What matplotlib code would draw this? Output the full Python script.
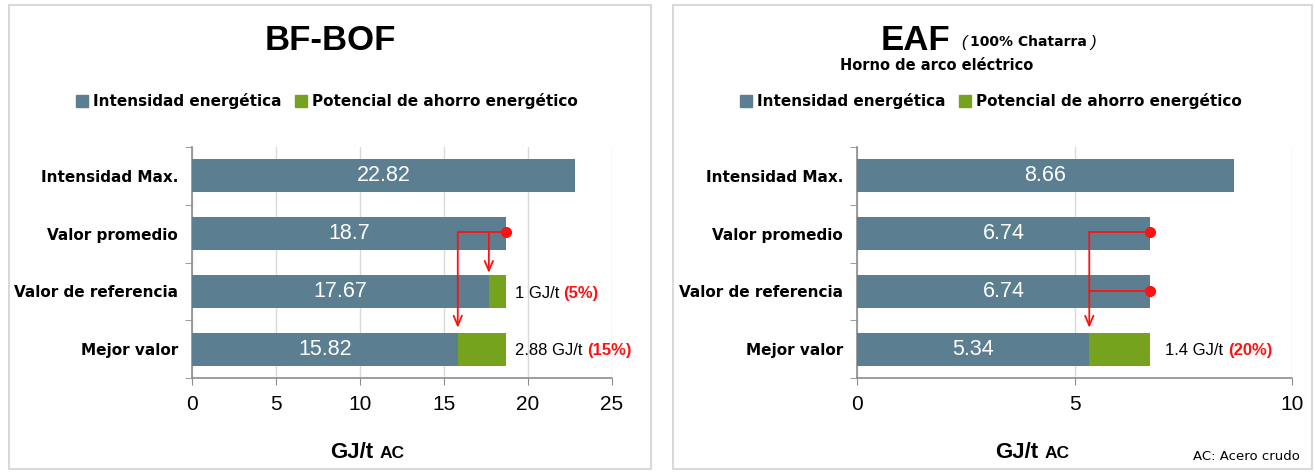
import matplotlib.pyplot as plt
from matplotlib.patches import Rectangle

# data
categories = ["Intensidad Max.", "Valor promedio", "Valor de referencia", "Mejor valor"]

bf_intensity = [22.82, 18.7, 17.67, 15.82]
bf_saving = [0, 0, 1.03, 2.88]
bf_saving_text = ["", "", "1 GJ/t", "2.88 GJ/t"]
bf_saving_pct = ["", "", "(5%)", "(15%)"]
bf_xticks = [0, 5, 10, 15, 20, 25]

eaf_intensity = [8.66, 6.74, 6.74, 5.34]
eaf_saving = [0, 0, 0, 1.4]
eaf_saving_text = ["", "", "", "1.4 GJ/t"]
eaf_saving_pct = ["", "", "", "(20%)"]
eaf_xticks = [0, 5, 10]

legend_labels = ["Intensidad energética", "Potencial de ahorro energético"]

BLUE = "#5b7f91"
GREEN = "#76a31d"
RED = "#ff1111"
GRID = "#d9d9d9"
SPINE = "#8c8c8c"
ARIAL = "Liberation Sans"
LABEL = "DejaVu Sans"

W, H = 1315, 472
fig = plt.figure(figsize=(W / 100, H / 100), dpi=100)


def fx(px):
    return px / W


def fy(py):
    return 1 - py / H


def panel(rect, intensity, saving, sav_txt, sav_pct, xticks, xmax, label_x):
    ax = fig.add_axes(rect)
    ys = list(range(len(categories)))
    ax.barh(ys, intensity, height=0.57, color=BLUE, zorder=3)
    ax.barh(ys, saving, left=intensity, height=0.57, color=GREEN, zorder=3)
    for y, v in zip(ys, intensity):
        ax.text(v / 2, y, f"{v:g}", color="white", ha="center", va="center",
                fontsize=15.5, family=ARIAL, zorder=5)
    ax.set_xlim(0, xmax)
    ax.set_ylim(3.5, -0.5)
    ax.set_yticks(ys, categories, fontsize=11, fontweight="bold", family=LABEL)
    ax.tick_params(axis="y", length=0, pad=10)
    ax.set_yticks([-0.5, 0.5, 1.5, 2.5, 3.5], minor=True)
    ax.tick_params(axis="y", which="minor", length=5, color=SPINE, direction="out")
    ax.set_xticks(xticks)
    ax.set_xticklabels([str(t) for t in xticks], fontsize=15, family=ARIAL)
    ax.tick_params(axis="x", length=5, color=SPINE, pad=7)
    ax.grid(axis="x", color=GRID, lw=1, zorder=0)
    for s in ("top", "right"):
        ax.spines[s].set_visible(False)
    for s in ("left", "bottom"):
        ax.spines[s].set_color(SPINE)
        ax.spines[s].set_linewidth(1.2)
    for y, t, p in zip(ys, sav_txt, sav_pct):
        if not t:
            continue
        tx = ax.text(label_x, y + 0.03, t + " ", fontsize=12, family=ARIAL,
                     va="center", ha="left")
        ax.annotate(p, xy=(1, 0.5), xycoords=tx, va="center", ha="left",
                    fontsize=12, family=ARIAL, fontweight="bold", color=RED)
    return ax


def arrow(ax, x, y0, y1):
    ax.annotate("", xy=(x, y1), xytext=(x, y0),
                arrowprops=dict(arrowstyle="->,head_length=0.7,head_width=0.3",
                                color=RED, lw=1.3, shrinkA=0, shrinkB=0),
                zorder=6)


ax_bf = panel([fx(192), fy(378), fx(612) - fx(192), fy(147) - fy(378)],
              bf_intensity, bf_saving, bf_saving_text, bf_saving_pct,
              bf_xticks, 25, 19.2)
ax_eaf = panel([fx(857), fy(378), fx(1292) - fx(857), fy(147) - fy(378)],
               eaf_intensity, eaf_saving, eaf_saving_text, eaf_saving_pct,
               eaf_xticks, 10, 7.08)

# red connectors, BF-BOF
yl = 1 - 0.02
ax_bf.plot([bf_intensity[3], bf_intensity[1]], [yl, yl], color=RED, lw=1.3, zorder=6)
ax_bf.plot([bf_intensity[1]], [yl], "o", color=RED, ms=7, zorder=7)
arrow(ax_bf, bf_intensity[2], yl, 1.68)
arrow(ax_bf, bf_intensity[3], yl, 2.63)

# red connectors, EAF
for y in (1 - 0.02, 2 - 0.01):
    ax_eaf.plot([eaf_intensity[3], eaf_intensity[1]], [y, y], color=RED, lw=1.3, zorder=6)
    ax_eaf.plot([eaf_intensity[1]], [y], "o", color=RED, ms=7, zorder=7)
arrow(ax_eaf, eaf_intensity[3], 1 - 0.02, 2.63)

# panel frames
for x0, x1 in ((9, 651), (673, 1312)):
    fig.patches.append(Rectangle((fx(x0), fy(469)), fx(x1) - fx(x0), fy(5) - fy(469),
                                 transform=fig.transFigure, fill=False,
                                 edgecolor=GRID, lw=1.5, zorder=0))

# titles
fig.text(fx(330), fy(40), "BF-BOF", ha="center", va="center", fontsize=25,
         fontweight="bold", family=ARIAL)
fig.text(fx(950), fy(40), "EAF", ha="right", va="center", fontsize=25,
         fontweight="bold", family=ARIAL)
fig.text(fx(961), fy(42), "(", ha="left", va="center", fontsize=12,
         fontstyle="italic", family=ARIAL)
fig.text(fx(970), fy(42), "100% Chatarra", ha="left", va="center", fontsize=10,
         fontweight="bold", family=LABEL)
fig.text(fx(1091), fy(42), ")", ha="left", va="center", fontsize=12,
         fontstyle="italic", family=ARIAL)
fig.text(fx(937), fy(65), "Horno de arco eléctrico", ha="center", va="center",
         fontsize=10.5, fontweight="bold", family=LABEL)

# legends
handles = [Rectangle((0, 0), 1, 1, color=BLUE), Rectangle((0, 0), 1, 1, color=GREEN)]
for cx in (327, 991):
    fig.legend(handles, legend_labels, loc="center", bbox_to_anchor=(fx(cx), fy(101)),
               ncol=2, frameon=False, handlelength=0.8, handleheight=0.8,
               handletextpad=0.3, columnspacing=0.9,
               prop={"family": LABEL, "weight": "bold", "size": 11})

# x axis labels
for x in (330, 995):
    fig.text(fx(x), fy(452), "GJ/t", ha="left", va="center", fontsize=16,
             fontweight="bold", family=ARIAL)
    fig.text(fx(x + 50), fy(453), "AC", ha="left", va="center", fontsize=12.5,
             fontweight="bold", family=ARIAL)

fig.text(fx(1300), fy(457), "AC: Acero crudo", ha="right", va="center",
         fontsize=9.5, family=LABEL)

fig.savefig("out.png", dpi=100)
